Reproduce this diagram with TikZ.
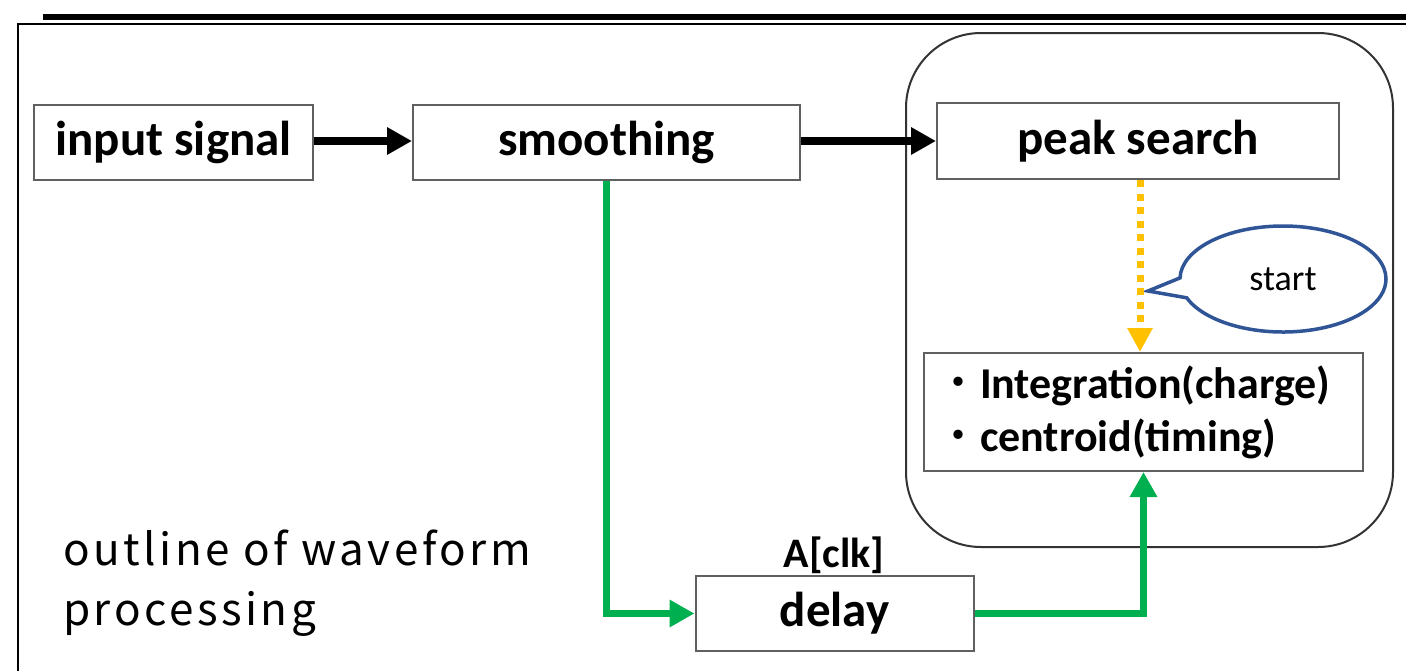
\documentclass[tikz,border=0pt]{standalone}
\usepackage{fontspec}
\setmainfont{Carlito}
\newfontfamily\cjk{Noto Sans CJK JP}
\newfontfamily\capfont[LetterSpace=8]{Noto Sans CJK JP}
\usetikzlibrary{arrows.meta,shapes.callouts}
\definecolor{boxgray}{HTML}{606060}
\definecolor{arrgreen}{HTML}{00B050}
\definecolor{arryellow}{HTML}{FFC000}
\definecolor{callblue}{HTML}{2F5597}
\tikzset{
  blk/.style={draw=boxgray, line width=2pt, fill=white, inner sep=0pt, font=\fontsize{49}{58}\selectfont\bfseries},
  blackarrow/.style={line width=7.5pt, -{Triangle[length=25pt,width=26pt]}},
  greenarrow/.style={draw=arrgreen, line width=7.5pt, -{Triangle[length=25pt,width=26pt]}},
  yellowarrow/.style={draw=arryellow, line width=7pt, dash pattern=on 7pt off 6.5pt, -{Triangle[length=24pt,width=24pt]}},
}
\begin{document}
\begin{tikzpicture}[x=1pt,y=-1pt]
\useasboundingbox (0,0) rectangle (1406,670);
% top decoration and frame
\coordinate (tl) at (43,16.5);
\coordinate (tr) at (1406,16.5);
\draw[line width=6pt] (tl) -- (tr);
\coordinate (fb) at (18,671);
\coordinate (fc) at (18,24);
\coordinate (fr) at (1407,24);
\draw[line width=2pt] (fb) -- (fc) -- (fr);
% group box
\node[draw=black!80, line width=2pt, rounded corners=75pt, minimum width=487pt, minimum height=514pt, inner sep=0pt] (grp) at (1149.5,290) {};
% blocks
\node[blk, minimum width=279pt, minimum height=75pt] (inp) at (173.5,142.5) {input signal};
\node[blk, minimum width=387pt, minimum height=75pt] (smo) at (606.5,142.5) {smoothing};
\node[blk, minimum width=402pt, minimum height=76pt] (peak) at (1138,141) {peak search};
\node[blk, minimum width=439pt, minimum height=118pt, align=left, text width=415pt, font=\fontsize{44}{53}\selectfont\bfseries] (integ) at (1143.5,412)
  {{\cjk\mdseries ・}Integration(charge)\\{\cjk\mdseries ・}centroid(timing)};
\node[blk, minimum width=278pt, minimum height=75pt] (delay) at (834.5,613.5) {delay};
\node[font=\fontsize{42}{50}\selectfont\bfseries, anchor=south, inner sep=0pt] (aclk) at (834,574) {A[clk]};
% callout
\node[ellipse callout, draw=callblue, line width=3.5pt, fill=white, minimum width=206pt, minimum height=106pt, inner sep=0pt,
      callout absolute pointer={(1148,291)}, callout pointer arc=22, font=\fontsize{36}{42}\selectfont] (call) at (1283,279) {start};
% caption
\node[anchor=north west, align=left, inner sep=0pt, font=\capfont\fontsize{44}{60}\selectfont] (cap) at (63,530) {outline of waveform\\processing};
% arrows
\draw[blackarrow] (inp.east |- 0,141) -- (smo.west |- 0,141);
\draw[blackarrow] (smo.east |- 0,141) -- (peak.west |- 0,141);
\draw[greenarrow] (smo.south) |- (delay.west);
\draw[greenarrow] (delay.east) -| (integ.south);
\coordinate (ys) at (1140,180);
\draw[yellowarrow] (ys) -- (ys |- integ.north);
\end{tikzpicture}
\end{document}
